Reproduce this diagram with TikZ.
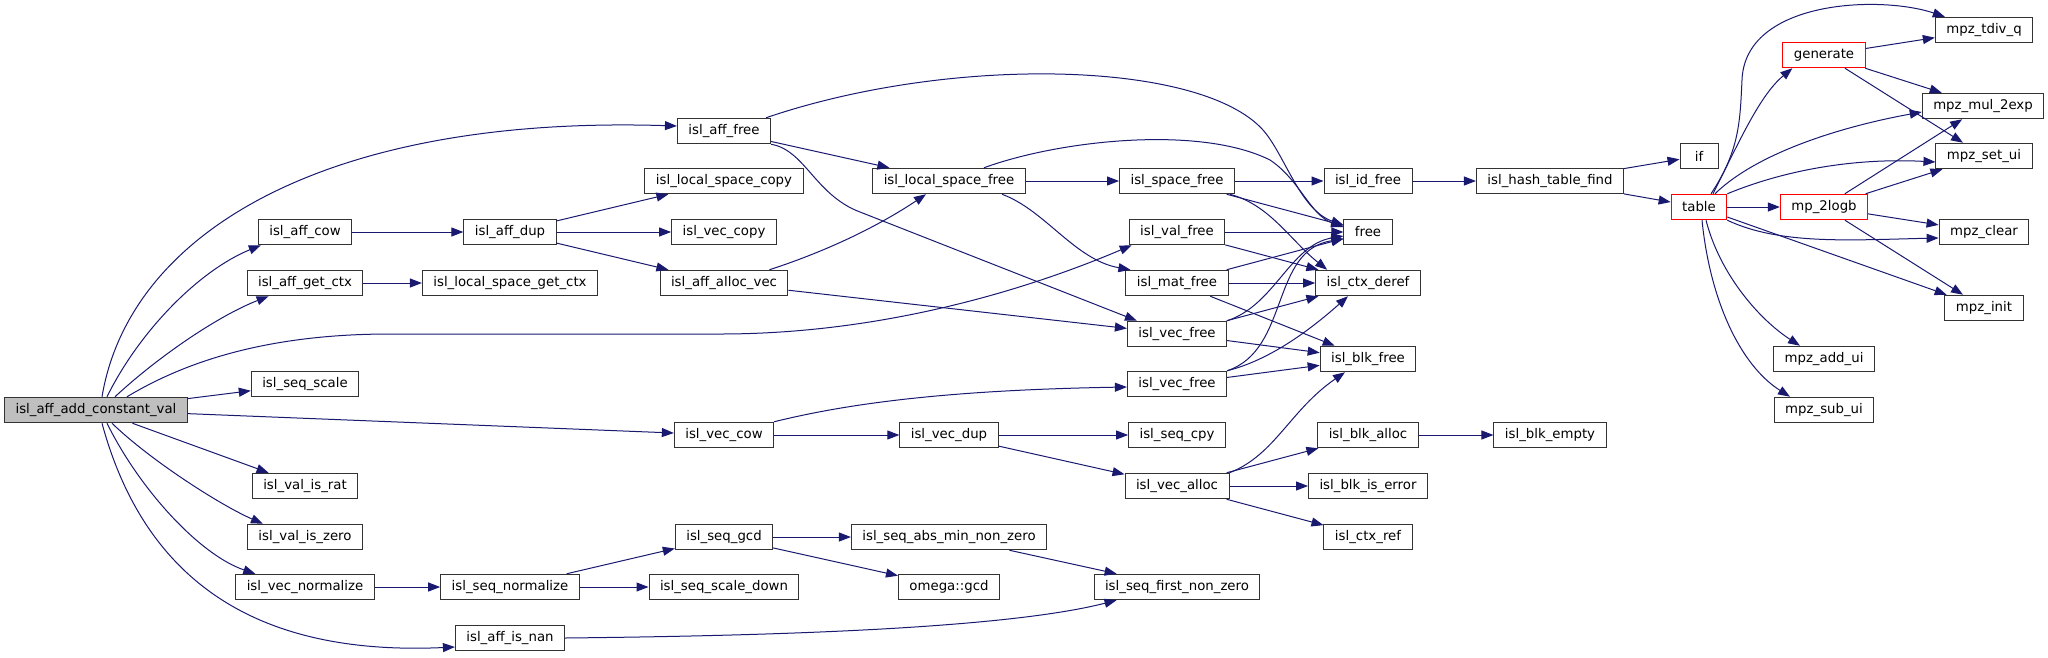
\documentclass[tikz,border=0pt]{standalone}
\usepackage{fontspec}
\setmainfont{DejaVu Sans}
\usetikzlibrary{arrows.meta}
\definecolor{edgeblue}{HTML}{191970}
\definecolor{rootgray}{HTML}{BFBFBF}

\begin{document}
\begin{tikzpicture}[x=1pt, y=-1pt,
        fn/.style={draw=black!80, line width=1pt, fill=white, inner xsep=11pt, inner ysep=0pt,
                minimum height=25.5pt, minimum width=38pt, font=\fontsize{13.3}{16}\selectfont},
        fnroot/.style={fn, fill=rootgray},
        fntrunc/.style={fn, draw=red},
        call/.style={->, >={Triangle[length=12pt, width=9pt]}, draw=edgeblue, line width=1pt}]
        \useasboundingbox (0,0) rectangle (2048,657);

        % column 0 and 1
        \node[fnroot] (main) at (96,410) {isl\_aff\_add\_constant\_val};
        \node[fn] (affCow) at (305,232) {isl\_aff\_cow};
        \node[fn] (affGetCtx) at (305,283) {isl\_aff\_get\_ctx};
        \node[fn] (seqScale) at (305,384) {isl\_seq\_scale};
        \node[fn] (valIsRat) at (305,486) {isl\_val\_is\_rat};
        \node[fn] (valIsZero) at (305,537) {isl\_val\_is\_zero};
        \node[fn] (vecNormalize) at (305,587) {isl\_vec\_normalize};

        % column 2 and 3
        \node[fn] (affDup) at (510,232) {isl\_aff\_dup};
        \node[fn] (lsGetCtx) at (510,283) {isl\_local\_space\_get\_ctx};
        \node[fn] (seqNormalize) at (510,587) {isl\_seq\_normalize};
        \node[fn] (affIsNan) at (510,638) {isl\_aff\_is\_nan};
        \node[fn] (affFree) at (724,131) {isl\_aff\_free};
        \node[fn] (lsCopy) at (724,181) {isl\_local\_space\_copy};
        \node[fn] (vecCopy) at (724,232) {isl\_vec\_copy};
        \node[fn] (affAllocVec) at (724,283) {isl\_aff\_alloc\_vec};
        \node[fn] (vecCow) at (724,435) {isl\_vec\_cow};
        \node[fn] (seqGcd) at (724,537) {isl\_seq\_gcd};
        \node[fn] (seqScaleDown) at (724,587) {isl\_seq\_scale\_down};

        % column 4 and 5
        \node[fn] (lsFree) at (949,181) {isl\_local\_space\_free};
        \node[fn] (vecDup) at (949,435) {isl\_vec\_dup};
        \node[fn] (absMin) at (949,537) {isl\_seq\_abs\_min\_non\_zero};
        \node[fn] (omegaGcd) at (949,587) {omega::gcd};
        \node[fn] (spaceFree) at (1177,181) {isl\_space\_free};
        \node[fn] (valFree) at (1177,232) {isl\_val\_free};
        \node[fn] (matFree) at (1177,283) {isl\_mat\_free};
        \node[fn] (vecFreeA) at (1177,334) {isl\_vec\_free};
        \node[fn] (vecFreeB) at (1177,384) {isl\_vec\_free};
        \node[fn] (seqCpy) at (1177,435) {isl\_seq\_cpy};
        \node[fn] (vecAlloc) at (1177,486) {isl\_vec\_alloc};
        \node[fn] (firstNZ) at (1177,587) {isl\_seq\_first\_non\_zero};

        % column 6 and 7
        \node[fn] (idFree) at (1368,181) {isl\_id\_free};
        \node[fn] (free) at (1368,232) {free};
        \node[fn] (ctxDeref) at (1368,283) {isl\_ctx\_deref};
        \node[fn] (blkFree) at (1368,359) {isl\_blk\_free};
        \node[fn] (blkAlloc) at (1368,435) {isl\_blk\_alloc};
        \node[fn] (blkIsError) at (1368,486) {isl\_blk\_is\_error};
        \node[fn] (ctxRef) at (1368,537) {isl\_ctx\_ref};
        \node[fn] (hashFind) at (1550,181) {isl\_hash\_table\_find};
        \node[fn] (blkEmpty) at (1550,435) {isl\_blk\_empty};

        % column 8 to 10
        \node[fn] (if) at (1699,156) {if};
        \node[fntrunc] (table) at (1699,207) {table};
        \node[fntrunc] (generate) at (1824,55) {generate};
        \node[fntrunc] (mp2logb) at (1824,207) {mp\_2logb};
        \node[fn] (addUi) at (1824,359) {mpz\_add\_ui};
        \node[fn] (subUi) at (1824,410) {mpz\_sub\_ui};
        \node[fn] (tdivQ) at (1984,30) {mpz\_tdiv\_q};
        \node[fn] (mul2exp) at (1983,106) {mpz\_mul\_2exp};
        \node[fn] (setUi) at (1984,156) {mpz\_set\_ui};
        \node[fn] (clear) at (1984,232) {mpz\_clear};
        \node[fn] (init) at (1984,308) {mpz\_init};

        % calls from the root
        \draw[call] ([xshift=6pt]main.north) .. controls (130,230) and (330,115) .. ([yshift=5pt]affFree.west);
        \draw[call] ([xshift=11pt]main.north) .. controls (140,330) and (200,270) .. ([xshift=3pt]affCow.south west);
        \draw[call] ([xshift=19pt]main.north) .. controls (160,355) and (220,315) .. ([xshift=22pt]affGetCtx.south west);
        \draw[call] ([xshift=31pt]main.north) .. controls (180,365) and (260,334) .. (390,334) -- (720,334)
                .. controls (900,334) and (1050,280) .. ([xshift=3pt]valFree.south west);
        \draw[call] (main) -- (seqScale);
        \draw[call] (main) -- (vecCow);
        \draw[call] (main) -- (valIsRat);
        \draw[call] ([xshift=16pt]main.south) .. controls (150,460) and (220,505) .. ([xshift=16pt]valIsZero.north west);
        \draw[call] ([xshift=11pt]main.south) .. controls (140,490) and (200,555) .. ([xshift=20pt]vecNormalize.north west);
        \draw[call] ([xshift=6pt]main.south) .. controls (150,600) and (280,655) .. ([yshift=-9pt]affIsNan.west);

        % isl_aff side
        \draw[call] (affFree) -- (lsFree);
        \draw[call] ([xshift=-5pt]affFree.north east) .. controls (950,55) and (1200,60) .. (1263,130)
                .. controls (1285,155) and (1300,210) .. ([yshift=7pt]free.west);
        \draw[call] (affFree.south east) .. controls (805,150) and (815,195) .. (860,212) -- ([xshift=10pt]vecFreeA.north west);
        \draw[call] (affCow) -- (affDup);
        \draw[call] (affDup) -- (lsCopy);
        \draw[call] (affDup) -- (vecCopy);
        \draw[call] (affDup) -- (affAllocVec);
        \draw[call] (affGetCtx) -- (lsGetCtx);
        \draw[call] ([xshift=-19pt]affAllocVec.north east) .. controls (830,250) and (880,225) .. ([xshift=-23pt]lsFree.south);
        \draw[call] (affAllocVec) -- (vecFreeA);
        \draw[call] ([xshift=35pt]lsFree.north) .. controls (1060,140) and (1200,125) .. (1270,160)
                .. controls (1300,180) and (1310,215) .. ([yshift=5pt]free.west);
        \draw[call] (lsFree) -- (spaceFree);
        \draw[call] ([xshift=53pt]lsFree.south) .. controls (1045,210) and (1075,260) .. ([xshift=5pt]matFree.north west);

        % the free functions
        \draw[call] (spaceFree) -- (idFree);
        \draw[call] (spaceFree) -- (free);
        \draw[call] ([xshift=-5pt]spaceFree.south east) .. controls (1270,205) and (1290,240) .. ([xshift=12pt]ctxDeref.north west);
        \draw[call] (valFree) -- (free);
        \draw[call] (valFree) -- (ctxDeref);
        \draw[call] (matFree) -- (free);
        \draw[call] (matFree) -- (ctxDeref);
        \draw[call] (matFree) -- (blkFree);
        \draw[call] (vecFreeA.north east) .. controls (1275,305) and (1290,245) .. ([yshift=-4pt]free.west);
        \draw[call] (vecFreeA) -- (ctxDeref);
        \draw[call] (vecFreeA) -- (blkFree);
        \draw[call] (vecFreeB.north east) .. controls (1290,350) and (1270,250) .. ([yshift=-7pt]free.west);
        \draw[call] (vecFreeB.north east) .. controls (1270,360) and (1310,330) .. ([xshift=-20pt]ctxDeref.south);
        \draw[call] (vecFreeB) -- (blkFree);

        % isl_vec side
        \draw[call] (vecCow.north east) .. controls (850,403) and (950,390) .. ([yshift=-3pt]vecFreeB.west);
        \draw[call] (vecCow) -- (vecDup);
        \draw[call] (vecDup) -- (seqCpy);
        \draw[call] (vecDup) -- (vecAlloc);
        \draw[call] (vecAlloc.north east) .. controls (1275,455) and (1290,410) .. ([xshift=-23pt]blkFree.south);
        \draw[call] (vecAlloc) -- (blkAlloc);
        \draw[call] (vecAlloc) -- (blkIsError);
        \draw[call] (vecAlloc) -- (ctxRef);
        \draw[call] (blkAlloc) -- (blkEmpty);

        % hash table and gmp
        \draw[call] (idFree) -- (hashFind);
        \draw[call] (hashFind) -- (if);
        \draw[call] (hashFind) -- (table);
        \draw[call] ([xshift=14pt]table.north) .. controls (1740,140) and (1760,95) .. ([xshift=10pt]generate.south west);
        \draw[call] ([xshift=12pt]table.north) .. controls (1740,150) and (1740,120) .. (1742,80)
                .. controls (1745,0) and (1880,-5) .. ([xshift=10pt]tdivQ.north west);
        \draw[call] ([xshift=16pt]table.north) .. controls (1760,150) and (1850,125) .. ([yshift=-6pt]mul2exp.west);
        \draw[call] (table.north east) .. controls (1790,168) and (1860,158) .. ([yshift=-6pt]setUi.west);
        \draw[call] (table) -- (mp2logb);
        \draw[call] (table.south east) .. controls (1780,245) and (1850,240) .. ([yshift=-6pt]clear.west);
        \draw[call] (table) -- (init);
        \draw[call] ([xshift=7pt]table.south) .. controls (1720,275) and (1760,320) .. ([xshift=-24pt]addUi.north);
        \draw[call] ([xshift=3pt]table.south) .. controls (1710,300) and (1740,365) .. ([xshift=-34pt]subUi.north);
        \draw[call] (generate) -- (tdivQ);
        \draw[call] (generate) -- (mul2exp);
        \draw[call] (generate) -- (setUi);
        \draw[call] (mp2logb) -- (mul2exp);
        \draw[call] (mp2logb) -- (setUi);
        \draw[call] (mp2logb) -- (clear);
        \draw[call] (mp2logb) -- (init);

        % isl_seq side
        \draw[call] (vecNormalize) -- (seqNormalize);
        \draw[call] (seqNormalize) -- (seqGcd);
        \draw[call] (seqNormalize) -- (seqScaleDown);
        \draw[call] (seqGcd) -- (absMin);
        \draw[call] (seqGcd) -- (omegaGcd);
        \draw[call] (absMin) -- (firstNZ);
        \draw[call] (affIsNan.east) .. controls (750,636) and (1000,630) .. ([xshift=23pt]firstNZ.south west);
    \end{tikzpicture}
\end{document}
